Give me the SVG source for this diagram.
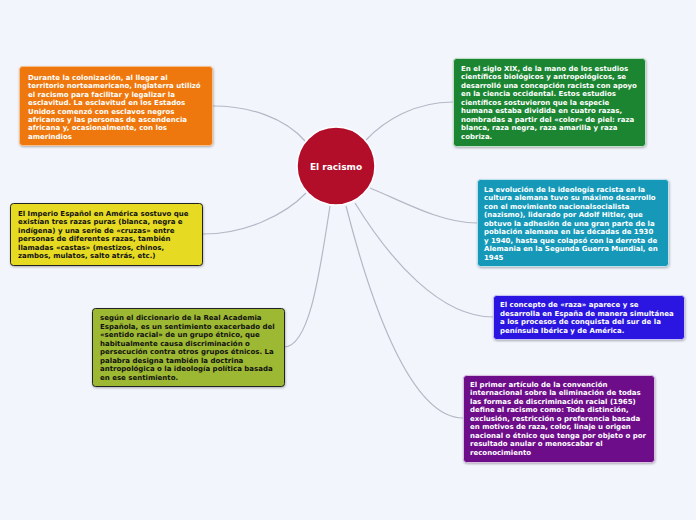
<svg xmlns="http://www.w3.org/2000/svg" width="696" height="520" viewBox="0 0 696 520">
<defs>
<style>
.bg{fill:#f3f5fd}
.box{stroke-width:1;}
.t{font-family:"DejaVu Sans","Verdana",sans-serif;font-weight:bold;font-size:7px;}
.w{fill:#ffffff}
.k{fill:#111111}
.c{fill:none;stroke:#b4b8c4;stroke-width:1.2}
</style>
<filter id="sh" x="-5%" y="-5%" width="110%" height="115%">
<feDropShadow dx="0.5" dy="1" stdDeviation="0.8" flood-color="#000" flood-opacity="0.3"/>
</filter>
</defs>
<rect class="bg" x="0" y="0" width="696" height="520"/>
<g id="connectors">
<path class="c" d="M305,141 C285,118 250,106 213,106"/>
<path class="c" d="M366,140 C385,120 415,102 453,102"/>
<path class="c" d="M306,193 C285,215 245,234 203,234"/>
<path class="c" d="M370,188 C400,200 440,223 477,223"/>
<path class="c" d="M330,206 C320,270 310,347 284,347"/>
<path class="c" d="M355,203 C390,260 440,317 493,317"/>
<path class="c" d="M346,206 C370,300 410,418 463,418"/>
</g>
<g id="center">
<circle cx="336" cy="166" r="39" fill="#b20e2a" stroke="#ffffff" stroke-width="1.5"/>
<text class="t w" x="336" y="169.5" text-anchor="middle" style="font-size:9px">El racismo</text>
</g>
<g id="n-orange">
<rect class="box" x="19.5" y="66.5" width="193" height="79" rx="3" fill="#ee7810" stroke="#f7c08a" filter="url(#sh)"/>
<text class="t w" x="28" y="80"><tspan x="28">Durante la colonización, al llegar al</tspan><tspan x="28" dy="8.4">territorio norteamericano, Inglaterra utilizó</tspan><tspan x="28" dy="8.4">el racismo para facilitar y legalizar la</tspan><tspan x="28" dy="8.4">esclavitud. La esclavitud en los Estados</tspan><tspan x="28" dy="8.4">Unidos comenzó con esclavos negros</tspan><tspan x="28" dy="8.4">africanos y las personas de ascendencia</tspan><tspan x="28" dy="8.4">africana y, ocasionalmente, con los</tspan><tspan x="28" dy="8.4">amerindios</tspan></text>
</g>
<g id="n-green">
<rect class="box" x="453.5" y="58.5" width="192" height="88" rx="3" fill="#1a8532" stroke="#bfe0c6" filter="url(#sh)"/>
<text class="t w" x="461" y="70.5"><tspan x="461">En el siglo XIX, de la mano de los estudios</tspan><tspan x="461" dy="8.5">científicos biológicos y antropológicos, se</tspan><tspan x="461" dy="8.5">desarrolló una concepción racista con apoyo</tspan><tspan x="461" dy="8.5">en la ciencia occidental. Estos estudios</tspan><tspan x="461" dy="8.5">científicos sostuvieron que la especie</tspan><tspan x="461" dy="8.5">humana estaba dividida en cuatro razas,</tspan><tspan x="461" dy="8.5">nombradas a partir del «color» de piel: raza</tspan><tspan x="461" dy="8.5">blanca, raza negra, raza amarilla y raza</tspan><tspan x="461" dy="8.5">cobriza.</tspan></text>
</g>
<g id="n-yellow">
<rect class="box" x="10.5" y="203.5" width="192" height="62" rx="3" fill="#e6da20" stroke="#222222" filter="url(#sh)"/>
<text class="t k" x="18" y="215.5"><tspan x="18">El Imperio Español en América sostuvo que</tspan><tspan x="18" dy="8.5">existían tres razas puras (blanca, negra e</tspan><tspan x="18" dy="8.5">indígena) y una serie de «cruzas» entre</tspan><tspan x="18" dy="8.5">personas de diferentes razas, también</tspan><tspan x="18" dy="8.5">llamadas «castas» (mestizos, chinos,</tspan><tspan x="18" dy="8.5">zambos, mulatos, salto atrás, etc.)</tspan></text>
</g>
<g id="n-teal">
<rect class="box" x="477.5" y="179.5" width="191" height="87" rx="3" fill="#1599b9" stroke="#bfe3ee" filter="url(#sh)"/>
<text class="t w" x="484" y="191.5"><tspan x="484">La evolución de la ideología racista en la</tspan><tspan x="484" dy="8.5">cultura alemana tuvo su máximo desarrollo</tspan><tspan x="484" dy="8.5">con el movimiento nacionalsocialista</tspan><tspan x="484" dy="8.5">(nazismo), liderado por Adolf Hitler, que</tspan><tspan x="484" dy="8.5">obtuvo la adhesión de una gran parte de la</tspan><tspan x="484" dy="8.5">población alemana en las décadas de 1930</tspan><tspan x="484" dy="8.5">y 1940, hasta que colapsó con la derrota de</tspan><tspan x="484" dy="8.5">Alemania en la Segunda Guerra Mundial, en</tspan><tspan x="484" dy="8.5">1945</tspan></text>
</g>
<g id="n-olive">
<rect class="box" x="92.5" y="308.5" width="192" height="78" rx="3" fill="#9db833" stroke="#222222" filter="url(#sh)"/>
<text class="t k" x="100" y="320"><tspan x="100">según el diccionario de la Real Academia</tspan><tspan x="100" dy="8.5">Española, es un sentimiento exacerbado del</tspan><tspan x="100" dy="8.5">«sentido racial» de un grupo étnico, que</tspan><tspan x="100" dy="8.5">habitualmente causa discriminación o</tspan><tspan x="100" dy="8.5">persecución contra otros grupos étnicos. La</tspan><tspan x="100" dy="8.5">palabra designa también la doctrina</tspan><tspan x="100" dy="8.5">antropológica o la ideología política basada</tspan><tspan x="100" dy="8.5">en ese sentimiento.</tspan></text>
</g>
<g id="n-blue">
<rect class="box" x="493.5" y="295.5" width="191" height="44" rx="3" fill="#2c12e0" stroke="#c9c2f7" filter="url(#sh)"/>
<text class="t w" x="500" y="307"><tspan x="500">El concepto de «raza» aparece y se</tspan><tspan x="500" dy="8.5">desarrolla en España de manera simultánea</tspan><tspan x="500" dy="8.5">a los procesos de conquista del sur de la</tspan><tspan x="500" dy="8.5">península Ibérica y de América.</tspan></text>
</g>
<g id="n-purple">
<rect class="box" x="463.5" y="375.5" width="191" height="87" rx="3" fill="#6d0c8a" stroke="#d9c0e2" filter="url(#sh)"/>
<text class="t w" x="470" y="386.5"><tspan x="470">El primer artículo de la convención</tspan><tspan x="470" dy="8.5">internacional sobre la eliminación de todas</tspan><tspan x="470" dy="8.5">las formas de discriminación racial (1965)</tspan><tspan x="470" dy="8.5">define al racismo como: Toda distinción,</tspan><tspan x="470" dy="8.5">exclusión, restricción o preferencia basada</tspan><tspan x="470" dy="8.5">en motivos de raza, color, linaje u origen</tspan><tspan x="470" dy="8.5">nacional o étnico que tenga por objeto o por</tspan><tspan x="470" dy="8.5">resultado anular o menoscabar el</tspan><tspan x="470" dy="8.5">reconocimiento</tspan></text>
</g>
</svg>
